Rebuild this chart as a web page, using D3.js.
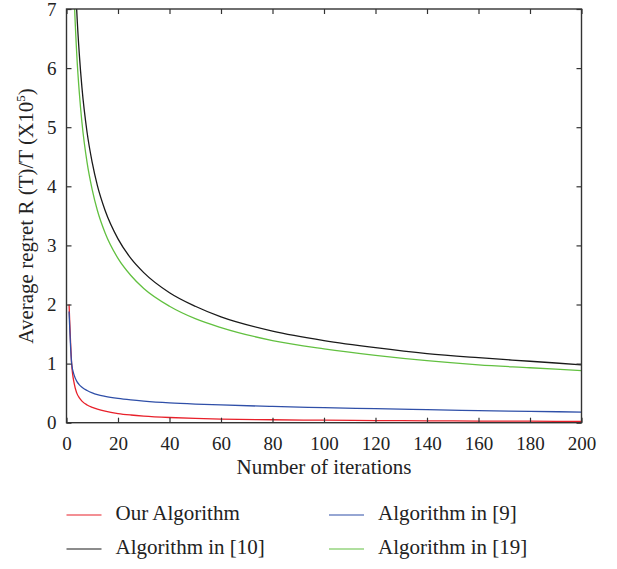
<!DOCTYPE html>
<html>
<head>
<meta charset="utf-8">
<script src="https://cdn.jsdelivr.net/npm/d3@7"></script>
<style>
  html, body { margin: 0; padding: 0; background: #fff; }
  svg text { font-family: "Liberation Serif", "Times New Roman", "DejaVu Serif", serif !important; fill: #222; }
</style>
</head>
<body>
<svg id="chart" width="617" height="569"></svg>
<script>
// Average regret per iteration (units of 10^5) for each algorithm
const iterations = [1, 2, 3, 4, 5, 6, 8, 10, 12, 15, 20, 25, 30, 40, 50, 60, 80, 100, 120, 140, 160, 180, 200];
const ourAlgorithm = [2.0, 1.0, 0.66, 0.50, 0.42, 0.365, 0.30, 0.26, 0.23, 0.195, 0.155, 0.13, 0.112, 0.088, 0.072, 0.062, 0.05, 0.042, 0.036, 0.032, 0.028, 0.025, 0.023];
const algorithm9 = [1.88, 1.0, 0.80, 0.70, 0.64, 0.60, 0.545, 0.505, 0.475, 0.445, 0.41, 0.385, 0.365, 0.335, 0.315, 0.30, 0.275, 0.255, 0.237, 0.22, 0.205, 0.192, 0.18];
const algorithm10 = [9.8, 9.8, 8.03, 6.95, 6.22, 5.67, 4.91, 4.40, 4.01, 3.59, 3.11, 2.78, 2.54, 2.20, 1.97, 1.79, 1.55, 1.39, 1.27, 1.17, 1.10, 1.04, 0.98];
const algorithm19 = [12.4, 8.8, 7.19, 6.22, 5.57, 5.08, 4.40, 3.94, 3.59, 3.21, 2.78, 2.49, 2.27, 1.97, 1.76, 1.61, 1.39, 1.25, 1.14, 1.05, 0.98, 0.93, 0.88];

const xTicks = [0, 20, 40, 60, 80, 100, 120, 140, 160, 180, 200];
const yTicks = [0, 1, 2, 3, 4, 5, 6, 7];

const seriesNames = ["Our Algorithm", "Algorithm in [9]", "Algorithm in [10]", "Algorithm in [19]"];
const seriesColors = ["#e8202a", "#2f4fa8", "#1a1a1a", "#62c040"];
const seriesValues = [ourAlgorithm, algorithm9, algorithm10, algorithm19];

const FONT = '"Liberation Serif", "Times New Roman", "DejaVu Serif", serif';
const svg = d3.select("#chart");
const W = 617, H = 569;
const margin = { left: 66.5, right: W - 581.5, top: 9, bottom: H - 422.7 };

const x = d3.scaleLinear().domain([0, 200]).range([margin.left, W - margin.right]);
const y = d3.scaleLinear().domain([0, 7]).range([H - margin.bottom, margin.top]);

svg.append("defs").append("clipPath").attr("id", "plot-clip")
  .append("rect")
  .attr("x", x(0)).attr("y", y(7))
  .attr("width", x(200) - x(0)).attr("height", y(0) - y(7));

// Curves
const line = d3.line()
  .x(d => x(d[0]))
  .y(d => y(d[1]))
  .curve(d3.curveMonotoneX);

const curves = svg.append("g").attr("clip-path", "url(#plot-clip)");
seriesValues.forEach((vals, i) => {
  curves.append("path")
    .datum(iterations.map((t, k) => [t, vals[k]]))
    .attr("fill", "none")
    .attr("stroke", seriesColors[i])
    .attr("stroke-width", 1.3)
    .attr("d", line);
});

// Axes with inward ticks on all four sides
const axisColor = "#333";
const tickLen = 5;
const styleAxis = g => {
  g.attr("font-family", FONT);
  g.select(".domain").remove();
  g.selectAll(".tick line").attr("stroke", axisColor).attr("stroke-width", 1.2);
  g.selectAll(".tick text").attr("font-size", 19).attr("fill", "#222");
};
const fmt = d3.format("d");

svg.append("g")
  .attr("transform", `translate(0,${y(0)})`)
  .call(d3.axisBottom(x).tickValues(xTicks).tickFormat(fmt).tickSize(-tickLen).tickPadding(14))
  .call(styleAxis);

svg.append("g")
  .attr("transform", `translate(0,${y(7)})`)
  .call(d3.axisTop(x).tickValues(xTicks).tickSize(-tickLen).tickFormat(""))
  .call(styleAxis);

svg.append("g")
  .attr("transform", `translate(${x(0)},0)`)
  .call(d3.axisLeft(y).tickValues(yTicks).tickFormat(fmt).tickSize(-tickLen).tickPadding(10))
  .call(styleAxis);

svg.append("g")
  .attr("transform", `translate(${x(200)},0)`)
  .call(d3.axisRight(y).tickValues(yTicks).tickSize(-tickLen).tickFormat(""))
  .call(styleAxis);

// Plot frame
svg.append("rect")
  .attr("x", x(0)).attr("y", y(7))
  .attr("width", x(200) - x(0)).attr("height", y(0) - y(7))
  .attr("fill", "none").attr("stroke", axisColor).attr("stroke-width", 1.4);

// Axis titles
svg.append("text")
  .attr("x", (x(0) + x(200)) / 2).attr("y", 474)
  .attr("text-anchor", "middle").attr("font-size", 21)
  .text("Number of iterations");

const yTitle = svg.append("text")
  .attr("transform", `translate(33,216) rotate(-90)`)
  .attr("text-anchor", "middle").attr("font-size", 21);
yTitle.append("tspan").text("Average regret R (T)/T (X10");
yTitle.append("tspan").attr("font-size", 13).attr("dy", -8).text("5");
yTitle.append("tspan").attr("dy", 8).text(")");

// Legend, two columns
const legendPos = [[66.5, 520], [329, 520], [66.5, 554], [329, 554]];
const legend = svg.append("g");
seriesNames.forEach((name, si) => {
  const [lx, ly] = legendPos[si];
  legend.append("line")
    .attr("x1", lx).attr("x2", lx + 35)
    .attr("y1", ly - 5).attr("y2", ly - 5)
    .attr("stroke", seriesColors[si]).attr("stroke-width", 1.2);
  legend.append("text")
    .attr("x", lx + 49).attr("y", ly)
    .attr("font-size", 21)
    .text(name);
});
</script>
</body>
</html>
